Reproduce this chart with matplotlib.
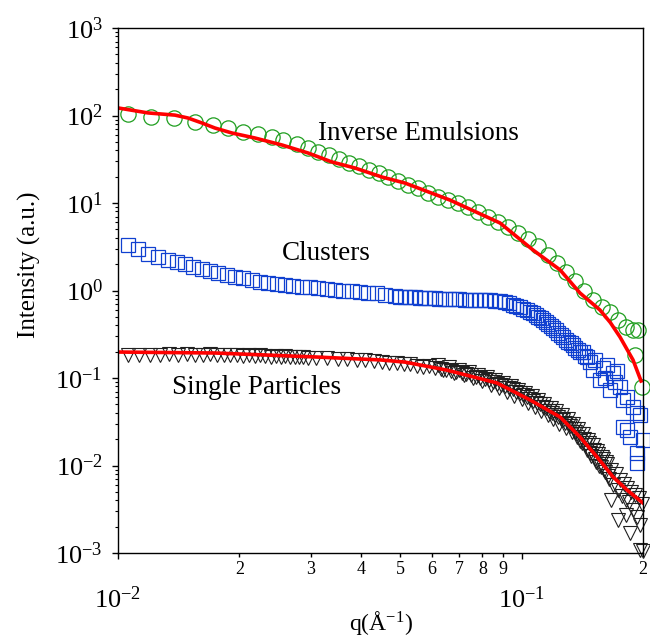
import numpy as np
import matplotlib
matplotlib.use('Agg')
import matplotlib.pyplot as plt
from matplotlib.ticker import FixedLocator, FixedFormatter, LogLocator, NullFormatter, LogFormatterSciNotation

plt.rcParams['font.family'] = 'Liberation Serif'
plt.rcParams['mathtext.fontset'] = 'custom'
plt.rcParams['mathtext.rm'] = 'Liberation Serif'
plt.rcParams['mathtext.it'] = 'Liberation Serif:italic'

# Inverse emulsions (green circles)
emul_q = [0.0106, 0.0121, 0.0138, 0.0155, 0.0172, 0.0187, 0.0204, 0.0222, 0.0241, 0.0256,
          0.0278, 0.0296, 0.0313, 0.0333, 0.0353, 0.0374, 0.0396, 0.0419, 0.0444, 0.0467,
          0.0494, 0.0523, 0.0554, 0.0587, 0.0621, 0.0657, 0.0696, 0.0737, 0.0780, 0.0826,
          0.0875, 0.0926, 0.0980, 0.1038, 0.1099, 0.1163, 0.1225, 0.1290, 0.1357, 0.1429,
          0.1504, 0.1583, 0.1657, 0.1735, 0.1816, 0.1889, 0.1944, 0.1911, 0.1988]
emul_I = [104, 96, 93.6, 84.3, 77.9, 71.9, 64.8, 61.5, 56.8, 52.5,
          47.2, 42.5, 38.3, 35.4, 31.8, 28.7, 26.5, 23.8, 22.0, 19.8,
          17.8, 16.1, 14.8, 13.0, 11.7, 10.8, 10.0, 9.0, 7.89, 6.92,
          6.07, 5.32, 4.54, 3.88, 3.23, 2.55, 2.06, 1.63, 1.28, 0.987,
          0.778, 0.648, 0.568, 0.460, 0.383, 0.354, 0.356, 0.183, 0.0789]

emul_fit_q = [0.0100, 0.01187, 0.01384, 0.01491, 0.01615, 0.01739, 0.01916, 0.02185, 0.0255, 0.02957,
              0.03392, 0.03867, 0.04511, 0.05143, 0.0665, 0.08845, 0.1068, 0.1246, 0.1396, 0.1565,
              0.1660, 0.1754, 0.1889, 0.1978]
emul_fit_I = [122, 107, 101, 93.6, 82.1, 71.9, 63.1, 55.3, 46.0, 37.3,
              29.4, 25.1, 19.8, 16.9, 10.8, 5.91, 2.90, 1.72, 0.936, 0.598,
              0.43, 0.294, 0.161, 0.0924]

# Clusters (blue squares)
clus_q = [0.01059, 0.01121, 0.01187, 0.01256, 0.01330, 0.01400, 0.01466, 0.01534, 0.01615, 0.01690,
          0.01769, 0.01863, 0.01950, 0.02041, 0.02148, 0.02249, 0.02354, 0.02477, 0.02594, 0.02715,
          0.02858, 0.02991, 0.03131, 0.03296, 0.03450, 0.03611, 0.0380, 0.03980, 0.04165, 0.04385,
          0.04590, 0.04861, 0.05143, 0.05446, 0.05767, 0.06104, 0.06462, 0.06842, 0.07244, 0.07670,
          0.08121, 0.08596, 0.09100, 0.09526, 0.0991, 0.1032, 0.1068, 0.1099, 0.1131, 0.1163,
          0.1197, 0.1232, 0.1268, 0.1304, 0.1342, 0.1380, 0.1421, 0.1453, 0.1479, 0.1504,
          0.1565, 0.1628, 0.1657, 0.1686, 0.1754, 0.1784, 0.1826, 0.1784, 0.1826, 0.1857,
          0.1889, 0.1933, 0.1966, 0.2000, 0.1933, 0.1933,
          0.0500, 0.0530, 0.0560, 0.0590, 0.0625, 0.0660, 0.0700, 0.0745, 0.0790, 0.0835,
          0.0885, 0.0930, 0.0970, 0.1010, 0.1050, 0.1085, 0.1115, 0.1147, 0.1180, 0.1215,
          0.1250, 0.1286, 0.1323, 0.1360, 0.1400, 0.1440, 0.1520, 0.1590, 0.1610, 0.1700,
          0.1720]
clus_I = [3.31, 2.98, 2.61, 2.41, 2.23, 2.12, 2.01, 1.86, 1.76, 1.67,
          1.585, 1.50, 1.43, 1.39, 1.32, 1.25, 1.22, 1.19, 1.16, 1.13,
          1.10, 1.09, 1.07, 1.04, 1.01, 0.987, 0.99, 0.962, 0.936, 0.94,
          0.889, 0.865, 0.843, 0.85, 0.821, 0.82, 0.80, 0.80, 0.778, 0.78,
          0.78, 0.759, 0.739, 0.683, 0.647, 0.598, 0.553, 0.498, 0.46, 0.414,
          0.372, 0.327, 0.294, 0.258, 0.238, 0.209, 0.198, 0.174, 0.152, 0.123,
          0.0948, 0.141, 0.073, 0.114, 0.0789, 0.0561, 0.0607, 0.0275, 0.0255, 0.0212,
          0.0467, 0.0398, 0.0378, 0.0195, 0.0139, 0.0107,
          0.85, 0.845, 0.83, 0.825, 0.81, 0.80, 0.79, 0.785, 0.785, 0.77,
          0.75, 0.72, 0.665, 0.62, 0.575, 0.52, 0.48, 0.435, 0.39, 0.35,
          0.31, 0.275, 0.25, 0.22, 0.20, 0.18, 0.16, 0.13, 0.10, 0.09,
          0.12]

# Single particles (black triangles)
sp_q = [0.0106, 0.0113, 0.0120, 0.0127, 0.0134, 0.0141, 0.0148, 0.0155, 0.0162, 0.0169,
        0.0176, 0.0183, 0.0190, 0.0197, 0.0204, 0.0211, 0.0218, 0.0225, 0.0232, 0.0239,
        0.0246, 0.0253, 0.0260, 0.0267, 0.0274, 0.0281, 0.0288, 0.0295,
        0.031, 0.033, 0.035, 0.037, 0.039, 0.041, 0.043, 0.045, 0.047, 0.049,
        0.051, 0.053, 0.055, 0.057, 0.059, 0.061, 0.063, 0.065, 0.067, 0.069,
        0.071, 0.073, 0.075, 0.077, 0.079, 0.081, 0.083, 0.085, 0.087, 0.089,
        0.091, 0.093, 0.095, 0.097, 0.099, 0.101, 0.103, 0.105, 0.107, 0.109,
        0.111, 0.113, 0.115, 0.117, 0.119, 0.121, 0.123, 0.125,
        0.127, 0.129, 0.131, 0.133, 0.135, 0.137, 0.139, 0.141, 0.143, 0.145,
        0.147, 0.149, 0.151, 0.153, 0.155, 0.157, 0.159, 0.161, 0.163, 0.165,
        0.167, 0.169, 0.171, 0.173, 0.175, 0.177, 0.179, 0.181, 0.183, 0.185,
        0.187, 0.189, 0.191, 0.193, 0.195, 0.197, 0.199, 0.200,
        0.1735, 0.186, 0.1966, 0.167, 0.181,
        0.062, 0.064, 0.066, 0.068, 0.070, 0.072, 0.074, 0.076, 0.078, 0.080,
        0.082, 0.084, 0.086, 0.088, 0.090, 0.092, 0.094, 0.096, 0.098, 0.100,
        0.102, 0.104, 0.106, 0.108, 0.110, 0.112, 0.114, 0.116, 0.118, 0.120,
        0.122, 0.124, 0.126, 0.128, 0.130, 0.132, 0.134, 0.136, 0.138, 0.140,
        0.142, 0.144, 0.146, 0.148, 0.150, 0.152, 0.154, 0.156, 0.158, 0.160,
        0.162, 0.164]
sp_I = [0.185, 0.183, 0.184, 0.182, 0.186, 0.184, 0.190, 0.185, 0.183, 0.186,
        0.182, 0.184, 0.181, 0.183, 0.180, 0.182, 0.179, 0.181, 0.178, 0.176,
        0.179, 0.175, 0.177, 0.174, 0.176, 0.172, 0.174, 0.171,
        0.170, 0.168, 0.165, 0.167, 0.161, 0.160, 0.156, 0.152, 0.150, 0.147,
        0.144, 0.143, 0.138, 0.135, 0.136, 0.130, 0.127, 0.124, 0.121, 0.117,
        0.114, 0.110, 0.108, 0.104, 0.100, 0.097, 0.094, 0.090, 0.086, 0.084,
        0.080, 0.077, 0.074, 0.070, 0.068, 0.064, 0.061, 0.058, 0.055, 0.052,
        0.050, 0.047, 0.045, 0.042, 0.040, 0.038, 0.036, 0.034,
        0.033, 0.027, 0.030, 0.024, 0.026, 0.021, 0.023, 0.018, 0.020, 0.015,
        0.018, 0.013, 0.015, 0.011, 0.0135, 0.0095, 0.012, 0.0085, 0.0105, 0.0070,
        0.0090, 0.0060, 0.0080, 0.0052, 0.0068, 0.0045, 0.0062, 0.0040, 0.0055, 0.0038,
        0.0050, 0.0031, 0.0046, 0.0026, 0.0042, 0.0021, 0.0036, 0.00105,
        0.0024, 0.0017, 0.00108, 0.0040, 0.0027,
        0.140, 0.122, 0.132, 0.114, 0.125, 0.107, 0.117, 0.099, 0.109, 0.092,
        0.102, 0.084, 0.094, 0.077, 0.087, 0.070, 0.080, 0.063, 0.073, 0.058,
        0.068, 0.052, 0.062, 0.047, 0.056, 0.042, 0.051, 0.038, 0.046, 0.034,
        0.042, 0.030, 0.038, 0.031, 0.034, 0.028, 0.030, 0.024, 0.026, 0.019,
        0.023, 0.017, 0.0195, 0.014, 0.017, 0.012, 0.0145, 0.010, 0.0125, 0.0088,
        0.011, 0.0075]

sp_fit_q = [0.0100, 0.01739, 0.03078, 0.0446, 0.0514, 0.06537, 0.08694, 0.1050, 0.1246, 0.1396,
            0.1539, 0.1686, 0.1826, 0.2000]
sp_fit_I = [0.198, 0.193, 0.174, 0.161, 0.152, 0.123, 0.0877, 0.0561, 0.0358, 0.0212,
            0.0125, 0.0074, 0.00525, 0.00372]

fig = plt.figure(figsize=(6.5, 6.38), dpi=100)
ax = fig.add_axes([118/650, 85/638, 525/650, 525/638])

ax.plot(emul_q, emul_I, 'o', ms=11, mfc='none', mec='#1f9e1f', mew=0.9, clip_on=False)
ax.plot(emul_fit_q, emul_fit_I, '-', color='red', lw=2.6)
ax.plot(clus_q, clus_I, 's', ms=9.5, mfc='none', mec='#1040d0', mew=0.9, clip_on=False)
ax.plot(sp_q, sp_I, 'v', ms=9.5, mfc='none', mec='#202020', mew=0.8, clip_on=False)
ax.plot(sp_fit_q, sp_fit_I, '-', color='red', lw=2.6)

ax.set_xscale('log')
ax.set_yscale('log')
ax.set_xlim(0.01, 0.2)
ax.set_ylim(1e-3, 1e3)

ax.xaxis.set_major_locator(FixedLocator([0.01, 0.1]))
ax.xaxis.set_major_formatter(LogFormatterSciNotation())
ax.xaxis.set_minor_locator(FixedLocator([0.02, 0.03, 0.04, 0.05, 0.06, 0.07, 0.08, 0.09, 0.2]))
ax.xaxis.set_minor_formatter(FixedFormatter(['2', '3', '4', '5', '6', '7', '8', '9', '2']))
ax.yaxis.set_major_locator(LogLocator(base=10))
ax.yaxis.set_minor_locator(LogLocator(base=10, subs=np.arange(2, 10)))
ax.yaxis.set_minor_formatter(NullFormatter())

ax.tick_params(axis='x', which='major', direction='out', length=4, width=1, labelsize=19, pad=20)
ax.tick_params(axis='x', which='minor', direction='out', length=3, width=1, labelsize=13, pad=3)
ax.tick_params(axis='y', which='major', direction='out', length=4, width=1, labelsize=19, pad=7)
ax.tick_params(axis='y', which='minor', direction='out', length=2.5, width=0.8)
for s in ax.spines.values():
    s.set_linewidth(1)

ax.text(0.381, 0.80, 'Inverse Emulsions', transform=ax.transAxes, fontsize=19.5, va='center')
ax.text(0.312, 0.571, 'Clusters', transform=ax.transAxes, fontsize=19.5, va='center')
ax.text(0.103, 0.316, 'Single Particles', transform=ax.transAxes, fontsize=19.5, va='center')

ax.set_xlabel(r'q($\mathrm{\AA}^{-1}$)', fontsize=17)
ax.xaxis.set_label_coords(0.5, -0.107)
ax.set_ylabel('Intensity (a.u.)', fontsize=18)
ax.yaxis.set_label_coords(-0.146, 0.55)

plt.savefig('out.png', dpi=100)
